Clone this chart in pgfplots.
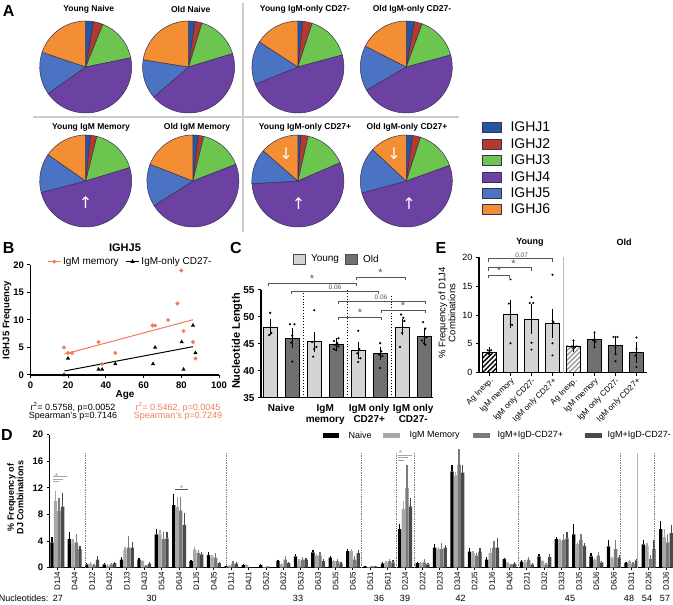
\documentclass[border=0pt]{standalone}
\usepackage{pgfplots}
\pgfplotsset{compat=1.18}
\usepackage{pgfplotstable}
\usepackage{fontspec}
\setmainfont{Liberation Sans}
\newfontfamily\djv{DejaVu Sans}
\usetikzlibrary{patterns.meta}

\definecolor{cJ1}{HTML}{2456A6}
\definecolor{cJ2}{HTML}{B53A2E}
\definecolor{cJ3}{HTML}{6BC54E}
\definecolor{cJ4}{HTML}{6B42A1}
\definecolor{cJ5}{HTML}{4B73C3}
\definecolor{cJ6}{HTML}{F38E34}
\definecolor{pieedge}{HTML}{3A3050}
\definecolor{borange}{HTML}{EE7D5B}
\definecolor{cyoung}{HTML}{D4D4D4}
\definecolor{cold}{HTML}{707070}
\definecolor{dM}{HTML}{A8A8A8}
\definecolor{dP}{HTML}{7A7A7A}
\definecolor{dQ}{HTML}{4A4A4A}
\definecolor{sig}{HTML}{555555}

\newcommand\fs[1]{\fontsize{#1}{#1}\selectfont}

\newcommand{\slice}[3]{\fill[#1, draw=pieedge, line width=0.5pt] (axis cs:0,0) -- ++(#2:46pt) arc[start angle=#2, end angle=#3, radius=46pt] -- cycle;}
\newcommand{\pie}[6]{%
\pgfmathsetmacro\pa{90-3.6*#1}%
\pgfmathsetmacro\pb{\pa-3.6*#2}%
\pgfmathsetmacro\pc{\pb-3.6*#3}%
\pgfmathsetmacro\pd{\pc-3.6*#4}%
\pgfmathsetmacro\pe{\pd-3.6*#5}%
\edef\dopie{\noexpand\slice{cJ1}{90}{\pa}\noexpand\slice{cJ2}{\pa}{\pb}\noexpand\slice{cJ3}{\pb}{\pc}\noexpand\slice{cJ4}{\pc}{\pd}\noexpand\slice{cJ5}{\pd}{\pe}\noexpand\slice{cJ6}{\pe}{-270}}%
\dopie}
\newcommand{\pieaxis}[8]{%
\pgfmathsetmacro\px{#1-46}\pgfmathsetmacro\py{#2-46}%
\begin{axis}[at={(\px pt,\py pt)}, anchor=south west, scale only axis, width=92pt, height=92pt, xmin=-1,xmax=1,ymin=-1,ymax=1, hide axis, clip=false]
\pie{#3}{#4}{#5}{#6}{#7}{#8}
\end{axis}}

\pgfplotsset{gp/.style={scale only axis, anchor=south west, axis x line*=bottom, axis y line*=left, axis line style={line width=1.2pt,-}, tick align=outside, major tick length=3pt, tick style={black, line width=1pt}, clip=false, /pgf/number format/assume math mode=true}}

\pgfplotstableread{
x y e
0 48.1 0.85
2 45.4 1.2
4 43.8 0.9
6 48.1 0.9
}\Cyoung
\pgfplotstableread{
x y e
1 46.0 1.2
3 44.9 0.5
5 43.2 0.5
7 46.4 0.7
}\Cold
\pgfplotstableread{
x y
0 50.7
0.05 47.0
-0.05 46.6
0.9 48.6
1.1 48.6
1.0 46.5
0.95 45.2
1.0 41.7
2.0 51.2
1.9 45.3
2.1 44.4
2.0 44.0
1.95 42.6
3.1 46.0
2.9 45.5
3.05 45.1
2.95 44.8
3.1 44.5
2.9 44.0
3.0 43.8
4.0 47.4
4.05 44.0
3.95 43.2
4.1 42.3
4.0 41.6
5.0 45.1
5.05 43.6
4.95 43.0
5.1 42.7
5.0 40.5
5.95 50.4
6.05 49.8
6.1 49.2
6.0 47.0
5.9 44.4
6.95 49.0
7.05 47.8
7.1 46.2
6.9 45.6
7.0 45.1
7.05 44.8
}\Cdots

\pgfplotstableread{
x y e
0 3.55 0.3
}\EagY
\pgfplotstableread{
x y e
4 4.65 0.5
}\EagO
\pgfplotstableread{
x y e
1 10.2 1.75
2 9.3 1.95
3 8.6 1.9
}\EY
\pgfplotstableread{
x y e
5 5.7 0.55
6 4.7 0.75
7 3.55 1.25
}\EO
\pgfplotstableread{
x y
-0.08 3.9
0.08 3.9
0.0 3.6
-0.05 3.3
0.05 3.1
1.0 16.2
0.92 12.0
1.0 8.3
1.08 8.3
1.0 5.1
2.0 13.1
1.92 12.1
2.08 12.1
2.0 5.2
2.0 4.0
3.0 17.0
3.0 9.0
3.05 8.8
3.0 5.1
3.0 3.0
4.0 5.6
3.92 4.5
4.08 4.5
4.0 4.3
4.0 4.2
5.0 7.0
5.0 5.8
4.95 5.6
5.05 5.4
5.0 4.4
5.9 6.2
6.0 6.2
6.1 6.2
6.0 4.4
6.0 3.2
6.0 2.0
7.0 6.1
7.0 4.1
6.95 3.0
7.0 1.0
}\Edots

\pgfplotstableread{
x N eN M eM P eP Q eQ
0 3.8 0.8 10.0 1.6 8.5 2.0 9.2 2.0
1 4.3 1.1 3.8 0.5 3.8 1.2 2.8 0.5
2 0.5 0.2 0.6 0.2 0.3 0.2 1.2 0.6
3 0.5 0.2 0.3 0.2 0.5 0.2 0.7 0.2
4 1.2 0.4 2.7 0.4 3.0 1.7 3.0 0.8
5 1.2 0.3 1.0 0.2 0.3 0.1 0.6 0.2
6 5.0 0.8 5.0 0.7 4.3 1.0 4.4 0.9
7 9.4 1.7 9.1 1.5 8.6 2.0 6.4 1.8
8 1.0 0.2 2.7 0.4 2.2 0.4 2.0 0.3
9 1.9 0.4 1.7 0.2 1.5 0.7 0.7 0.2
10 0.2 0.1 0.3 0.1 0.6 0.4 0.6 0.2
11 0.4 0.2 0.4 0.2 0.0 0.0 0.0 0.0
12 0.4 0.2 0.1 0.0 0.2 0.0 0.0 0.0
13 1.0 0.2 0.5 0.2 1.2 0.5 0.7 0.2
14 1.7 0.3 1.0 0.3 1.2 0.4 1.2 0.2
15 2.3 0.4 1.8 0.3 1.8 0.6 1.0 0.3
16 1.5 0.3 1.0 0.2 1.0 0.3 0.6 0.2
17 2.5 0.3 2.5 0.3 1.2 0.5 2.2 0.5
18 0.2 0.1 0.1 0.0 0.2 0.1 0.2 0.1
19 0.6 0.2 0.8 0.2 1.0 0.3 0.8 0.3
20 5.8 0.7 8.8 1.2 12.0 3.5 9.2 1.3
21 0.7 0.2 0.7 0.2 0.8 0.5 0.5 0.2
22 3.0 0.5 2.8 0.3 2.8 0.9 3.0 0.4
23 14.5 1.0 13.9 0.5 15.5 2.3 14.3 1.2
24 2.4 0.6 2.2 0.3 1.8 0.4 2.4 0.6
25 1.2 0.4 2.2 0.8 3.0 1.0 3.0 1.5
26 1.3 0.2 0.8 0.1 0.5 0.1 0.6 0.2
27 0.9 0.2 0.8 0.3 1.2 0.4 0.5 0.2
28 1.7 0.4 1.0 0.2 0.5 0.2 1.6 0.4
29 4.3 0.3 4.0 0.3 4.2 0.9 4.4 1.0
30 5.0 1.5 3.6 0.3 4.2 0.9 3.3 0.4
31 1.7 0.5 1.2 0.2 1.8 0.6 0.8 0.2
32 3.2 1.0 1.4 0.2 2.8 1.4 1.5 0.4
33 0.7 0.2 1.0 0.2 0.6 0.2 1.1 0.2
34 3.5 0.6 3.3 0.4 1.3 0.6 2.8 1.4
35 5.8 1.2 4.6 1.2 3.8 1.2 5.2 1.2
}\Ddata

\begin{document}
\begin{tikzpicture}[x=1pt,y=1pt]
\useasboundingbox (0,0) rectangle (673,605);

% ---------------- Panel A ----------------
\node[font=\bfseries\fs{16}] at (8.6,594) {A};
\draw[gray!40, line width=1.2pt] (33,488) -- (459,488);
\draw[gray!40, line width=1.2pt] (243,602) -- (243,373);
\begin{scope}[every node/.style={font=\bfseries\fs{8.5}}]
\node at (88.7,596) {Young Naive};
\node at (190.7,596) {Old Naive};
\node at (305,596) {Young IgM-only CD27-};
\node at (412,596) {Old IgM-only CD27-};
\node at (91,478) {Young IgM Memory};
\node at (197,478) {Old IgM Memory};
\node at (305,478) {Young IgM-only CD27+};
\node at (407,478) {Old IgM-only CD27+};
\end{scope}
\pieaxis{85.7}{538}{2.8}{3.3}{15.7}{43.4}{15.0}{19.8}
\pieaxis{188.6}{538}{2.2}{2.5}{15.6}{43.4}{13.8}{22.5}
\pieaxis{297.9}{538}{1.7}{3.3}{15.8}{48.1}{15.3}{15.8}
\pieaxis{406.3}{538}{2.8}{2.8}{15.2}{45.8}{15.9}{17.5}
\pieaxis{85.7}{424}{1.7}{2.2}{16.4}{50.7}{13.7}{15.3}
\pieaxis{192.9}{424}{1.9}{1.9}{15.3}{46.9}{14.9}{19.1}
\pieaxis{297.9}{424}{1.1}{2.5}{14.9}{55.6}{12.3}{13.6}
\pieaxis{406.3}{424}{2.2}{2.8}{14.5}{51.3}{16.1}{13.1}
\begin{scope}[every node/.style={text=white, font=\djv\fs{16}}]
\node at (85.7,402) {↑};
\node at (286,451) {↓};
\node at (298.7,401) {↑};
\node at (394,451) {↓};
\node at (409,401) {↑};
\end{scope}
\foreach \c/\t/\y in {cJ1/IGHJ1/478, cJ2/IGHJ2/461, cJ3/IGHJ3/445, cJ4/IGHJ4/428, cJ5/IGHJ5/412, cJ6/IGHJ6/396} {
  \filldraw[fill=\c, draw=pieedge, line width=0.6pt] (482,\y-5) rectangle (501,\y+5);
  \node[anchor=west, font=\fs{14}] at (507,\y) {\t};
}

% ---------------- Panel B ----------------
\node[font=\bfseries\fs{16}] at (8.6,357) {B};
\node[font=\bfseries\fs{11}] at (125,357) {IGHJ5};
\begin{axis}[gp, at={(30.5pt,230pt)}, width=188.5pt, height=110pt,
  xmin=0, xmax=100, ymin=0, ymax=20,
  xtick={0,20,40,60,80,100}, ytick={0,5,10,15,20},
  ticklabel style={font=\bfseries\fs{9.5}},
  legend style={draw=none, fill=none, at={(0.53,1.03)}, anchor=center, legend columns=2, font=\fs{10}, /tikz/every even column/.append style={column sep=5pt}},
  legend image code/.code={\draw[mark repeat=2, mark phase=2, #1] plot coordinates {(0pt,0pt) (6.5pt,0pt) (13pt,0pt)};}]
\addplot[only marks, mark=*, mark size=1.8pt, color=borange, forget plot] coordinates {(17.8,5) (19.9,4) (22,4) (36.1,6) (38,2) (45,4) (64.7,9) (66.1,9) (73,10) (78,13) (80,19) (81.2,8) (86.2,6) (87.5,3)};
\addplot[borange, line width=1pt, forget plot] coordinates {(18,3.8) (86.2,10.05)};
\addplot[only marks, mark=triangle*, mark size=2pt, black, forget plot] coordinates {(17.8,0) (19.9,3) (36.1,1) (38,1) (45,2) (65,2) (66.1,5) (80.2,6) (81.2,1) (86.2,9) (87.5,4)};
\addplot[black, line width=1pt, forget plot] coordinates {(18,0.73) (86.2,5.15)};
\addlegendimage{borange, line width=0.8pt, mark=*, mark size=1.5pt}
\addlegendentry{IgM memory}
\addlegendimage{black, line width=0.8pt, mark=triangle*, mark size=1.8pt}
\addlegendentry{IgM-only CD27-}
\end{axis}
\node[font=\bfseries\fs{10}] at (125,210) {Age};
\node[rotate=90, font=\bfseries\fs{9.5}] at (7,285) {IGHJ5 Frequency};
\node[font=\fs{9}] at (73,198) {r\textsuperscript{2}= 0.5758, p=0.0052};
\node[font=\fs{9}] at (73,189) {Spearman's p=0.7146};
\node[font=\fs{9}, text=borange] at (178,198) {r\textsuperscript{2}= 0.5462, p=0.0045};
\node[font=\fs{9}, text=borange] at (178,189) {Spearman's p=0.7249};

% ---------------- Panel C ----------------
\node[font=\bfseries\fs{16}] at (236,357) {C};
\filldraw[fill=cyoung, draw=black!70, line width=0.5pt] (293.6,341) rectangle (305,351);
\node[anchor=west, font=\fs{10}] at (307.5,346) {Young};
\filldraw[fill=cold, draw=black!70, line width=0.5pt] (345,341) rectangle (357,351);
\node[anchor=west, font=\fs{10}] at (359.5,346) {Old};
\begin{axis}[gp, at={(261pt,207.3pt)}, width=172pt, height=108pt,
  xmin=-0.42, xmax=7.4, ymin=35, ymax=55, ytick={35,40,45,50,55},
  xtick={0.5,2.5,4.5,6.5},
  xticklabels={Naive,{IgM\\memory},{IgM only\\CD27+},{IgM only\\CD27-}},
  xticklabel style={align=center, font=\bfseries\fontsize{10}{11}\selectfont, anchor=north},
  xtick style={draw=none},
  yticklabel style={font=\bfseries\fs{10}},
  bar width=14.3pt]
\addplot[ybar, bar shift=0pt, fill=cyoung, draw=black, line width=0.7pt,
  error bars/.cd, y dir=both, y explicit, error bar style={black, line width=0.8pt}, error mark options={black, mark size=3.5pt, line width=0.8pt}]
  table[x=x, y=y, y error=e] {\Cyoung};
\addplot[ybar, bar shift=0pt, fill=cold, draw=black, line width=0.7pt,
  error bars/.cd, y dir=both, y explicit, error bar style={black, line width=0.8pt}, error mark options={black, mark size=3.5pt, line width=0.8pt}]
  table[x=x, y=y, y error=e] {\Cold};
\addplot[only marks, mark=*, mark size=0.9pt, black] table[x=x, y=y] {\Cdots};
\draw[dotted, line width=0.8pt] (axis cs:1.5,35) -- (axis cs:1.5,54.6);
\draw[dotted, line width=0.8pt] (axis cs:3.5,35) -- (axis cs:3.5,55.2);
\draw[dotted, line width=0.8pt] (axis cs:5.5,35) -- (axis cs:5.5,54.0);
\end{axis}
\node[rotate=90, font=\bfseries\fs{11}] at (237,264) {Nucleotide Length};
\begin{scope}[sig, line width=0.8pt]
\draw (268,319) -- (268,322) -- (356,322) -- (356,319);
\node[font=\fs{11}] at (312,326.5) {*};
\draw (356,325) -- (356,328) -- (405,328) -- (405,325);
\node[font=\fs{11}] at (380.5,332.5) {*};
\draw (291,311) -- (291,314) -- (378,314) -- (378,311);
\node[font=\fs{6.5}] at (335,317.5) {0.06};
\draw (338,301) -- (338,304) -- (425,304) -- (425,301);
\node[font=\fs{6.5}] at (381,307.5) {0.06};
\draw (381,292) -- (381,295) -- (425,295) -- (425,292);
\node[font=\fs{11}] at (403,299.5) {*};
\draw (338,285) -- (338,288) -- (381,288) -- (381,285);
\node[font=\fs{11}] at (360,292.5) {*};
\end{scope}

% ---------------- Panel E ----------------
\node[font=\bfseries\fs{16}] at (441,357) {E};
\node[font=\bfseries\fs{9}] at (530,363) {Young};
\node[font=\bfseries\fs{9}] at (624,363) {Old};
\begin{axis}[gp, at={(479pt,232.3pt)}, width=168pt, height=115.2pt,
  xmin=-0.5, xmax=7.5, ymin=0, ymax=20, ytick={0,5,10,15,20},
  xtick={0,1,2,3,4,5,6,7},
  xticklabels={Ag Inexp., IgM memory, IgM only CD27-, IgM only CD27+, Ag Inexp., IgM memory, IgM only CD27-, IgM only CD27+},
  xticklabel style={rotate=45, anchor=north east, font=\fs{8}, inner sep=1pt},
  yticklabel style={font=\fs{9}},
  bar width=14.3pt]
\draw[gray!55, line width=1pt] (axis cs:3.5,0) -- (axis cs:3.5,20);
\addplot[ybar, bar shift=0pt, fill=white, draw=black, line width=0.8pt,
  postaction={pattern={Lines[angle=45, distance=3.4pt, line width=1.4pt]}, pattern color=black},
  error bars/.cd, y dir=both, y explicit, error bar style={black, line width=0.8pt}, error mark options={black, mark size=3.5pt, line width=0.8pt}]
  table[x=x, y=y, y error=e] {\EagY};
\addplot[ybar, bar shift=0pt, fill=white, draw=black, line width=0.8pt,
  postaction={pattern={Lines[angle=45, distance=3.4pt, line width=1.4pt]}, pattern color=gray!80},
  error bars/.cd, y dir=both, y explicit, error bar style={black, line width=0.8pt}, error mark options={black, mark size=3.5pt, line width=0.8pt}]
  table[x=x, y=y, y error=e] {\EagO};
\addplot[ybar, bar shift=0pt, fill=cyoung, draw=black, line width=0.8pt,
  error bars/.cd, y dir=both, y explicit, error bar style={black, line width=0.8pt}, error mark options={black, mark size=3.5pt, line width=0.8pt}]
  table[x=x, y=y, y error=e] {\EY};
\addplot[ybar, bar shift=0pt, fill=cold, draw=black, line width=0.8pt,
  error bars/.cd, y dir=both, y explicit, error bar style={black, line width=0.8pt}, error mark options={black, mark size=3.5pt, line width=0.8pt}]
  table[x=x, y=y, y error=e] {\EO};
\addplot[only marks, mark=*, mark size=0.8pt, black] table[x=x, y=y] {\Edots};
\end{axis}
\node[rotate=90, align=center, font=\fontsize{9.5}{10}\selectfont] at (447,292) {\% Frequency of D1J4\\Combinations};
\begin{scope}[sig, line width=0.8pt]
\draw (488,343.3) -- (488,346.3) -- (552,346.3) -- (552,343.3);
\node[font=\fs{6.5}] at (521.6,349.5) {0.07};
\draw (488,334.3) -- (488,337.3) -- (531.5,337.3) -- (531.5,334.3);
\node[font=\fs{11}] at (513.5,341.5) {*};
\draw (488,326.7) -- (488,329.7) -- (509,329.7) -- (509,326.7);
\node[font=\fs{11}] at (499,334) {*};
\end{scope}

% ---------------- Panel D ----------------
\node[font=\bfseries\fs{16}] at (7,170) {D};
\fill[black] (322.7,166.5) rectangle (339.3,172.2);
\node[anchor=west, font=\fs{9}] at (345,169.3) {Naive};
\fill[dM] (383,166.5) rectangle (400,172.2);
\node[anchor=west, font=\fs{9}] at (406,169.3) {IgM Memory};
\fill[dP] (473,166.5) rectangle (490,172.2);
\node[anchor=west, font=\fs{9}] at (494,169.3) {IgM+IgD-CD27+};
\fill[dQ] (585,166.5) rectangle (601.7,172.2);
\node[anchor=west, font=\fs{9}] at (604,169.3) {IgM+IgD-CD27-};
\begin{axis}[gp, at={(49.3pt,37.3pt)}, width=623.7pt, height=133pt,
  xmin=-0.46, xmax=35.4, ymin=0, ymax=20, ytick={0,4,8,12,16,20},
  xtick={0,...,35},
  xticklabels={D1J4,D4J4,D1J2,D4J2,D1J3,D4J3,D5J4,D6J4,D1J5,D4J5,D1J1,D4J1,D5J2,D6J2,D5J3,D6J3,D5J5,D6J5,D5J1,D6J1,D2J4,D2J2,D2J3,D3J4,D2J5,D1J6,D4J6,D2J1,D3J2,D3J3,D3J5,D5J6,D6J6,D3J1,D2J6,D3J6},
  xticklabel style={rotate=90, anchor=east, font=\fs{8}, inner sep=1.5pt},
  yticklabel style={font=\bfseries\fs{9.5}},
  major tick length=2.5pt,
  ybar=0.25pt, bar width=3.3pt]
\addplot[fill=black, draw=none, error bars/.cd, y dir=plus, y explicit, error mark=none, error bar style={black, line width=1.3pt}] table[x=x, y=N, y error=eN] {\Ddata};
\addplot[fill=dM, draw=none, error bars/.cd, y dir=plus, y explicit, error mark=none, error bar style={dM, line width=1.3pt}] table[x=x, y=M, y error=eM] {\Ddata};
\addplot[fill=dP, draw=none, error bars/.cd, y dir=plus, y explicit, error mark=none, error bar style={dP, line width=1.3pt}] table[x=x, y=P, y error=eP] {\Ddata};
\addplot[fill=dQ, draw=none, error bars/.cd, y dir=plus, y explicit, error mark=none, error bar style={dQ, line width=1.3pt}] table[x=x, y=Q, y error=eQ] {\Ddata};
\foreach \s in {1.6,9.7,17.5,19.5,20.5,26.5,32.4,34.35} {
  \edef\tmp{\noexpand\draw[densely dotted, gray, line width=0.7pt] (axis cs:\s,0) -- (axis cs:\s,17.3);}\tmp
}
\draw[gray!60, line width=0.8pt] (axis cs:33.35,0) -- (axis cs:33.35,17.3);
\end{axis}
\node[rotate=90, align=center, font=\bfseries\fontsize{9}{9.5}\selectfont] at (15.5,107.5) {\% Frequency of\\DJ Combinations};
\begin{scope}[line width=0.8pt]
\node[text=borange, font=\fs{9}] at (56.7,128.5) {*};
\draw[gray!70] (53.3,128.3) -- (66.7,128.3);
\draw[gray!70] (53.3,126) -- (63.3,126);
\draw[gray!70] (53.3,123.3) -- (59.3,123.3);
\node[text=borange, font=\fs{9}] at (181.7,116.5) {*};
\draw[sig] (175,115.7) -- (188,115.7);
\node[text=borange, font=\fs{9}] at (400.7,152) {*};
\draw[gray!70] (398,150) -- (411.7,150);
\draw[gray!70] (398,147.7) -- (408,147.7);
\draw[gray!70] (398,145) -- (404,145);
\end{scope}
\begin{scope}[every node/.style={font=\fs{9}}]
\node[anchor=east] at (52,7) {Nucleotides:};
\node at (58,7) {27};
\node at (151.7,7) {30};
\node at (298,7) {33};
\node at (379,7) {36};
\node at (405,7) {39};
\node at (460.7,7) {42};
\node at (570,7) {45};
\node at (629,7) {48};
\node at (647,7) {54};
\node at (665,7) {57};
\end{scope}
\end{tikzpicture}
\end{document}
